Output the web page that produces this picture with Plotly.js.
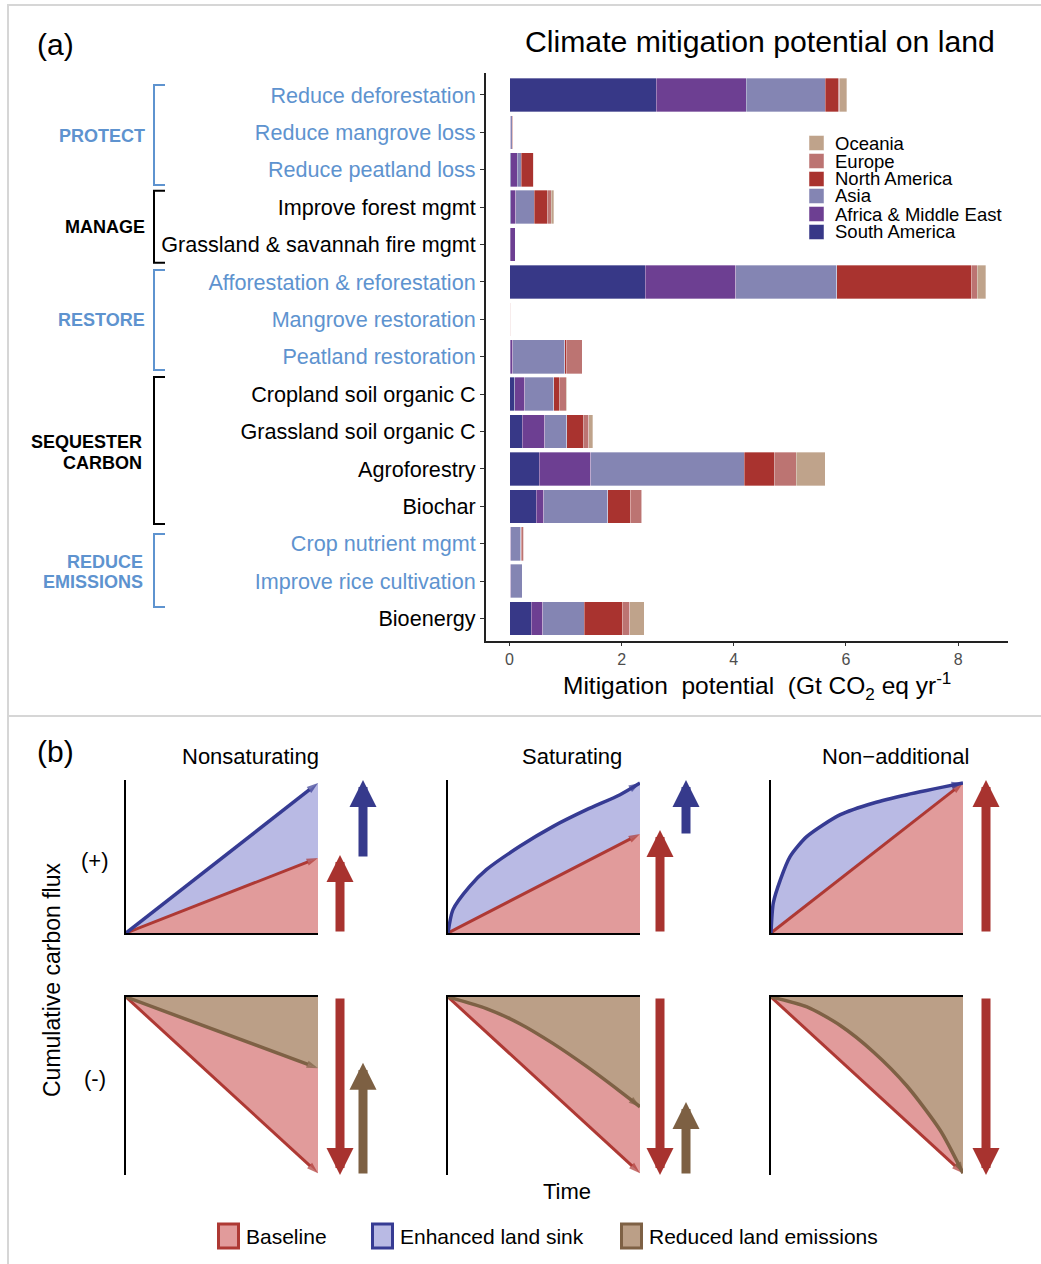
<!DOCTYPE html>
<html><head><meta charset="utf-8">
<script src="https://cdn.plot.ly/plotly-3.0.1.min.js"></script>
<style>html,body{margin:0;padding:0;background:#fff}#chart{width:1041px;height:1264px}</style>
</head><body><div id="chart"></div>
<script>
// ---------------- DATA: panel (a) ----------------
const categories = ['Reduce deforestation','Reduce mangrove loss','Reduce peatland loss','Improve forest mgmt','Grassland & savannah fire mgmt','Afforestation & reforestation','Mangrove restoration','Peatland restoration','Cropland soil organic C','Grassland soil organic C','Agroforestry','Biochar','Crop nutrient mgmt','Improve rice cultivation','Bioenergy'];
const categoryGroupColor = ['blue','blue','blue','black','black','blue','blue','blue','black','black','black','black','blue','blue','black'];
const regions = ['South America','Africa & Middle East','Asia','North America','Europe','Oceania'];
const regionColors = ['#373887','#6d3f92','#8485b3','#a9332f','#bc7472','#bfa38b'];
const southAmerica     = [2.62,0.01,0.02,0.02,0.01,2.42,0.003,0.01,0.09,0.23,0.53,0.48,0.01,0.01,0.39];
const africaMiddleEast = [1.60,0.01,0.12,0.09,0.09,1.61,0.002,0.05,0.18,0.40,0.92,0.13,0.01,0.01,0.20];
const asia             = [1.41,0.03,0.07,0.33,0.00,1.81,0.010,0.92,0.52,0.39,2.74,1.14,0.18,0.21,0.74];
const northAmerica     = [0.23,0.005,0.21,0.23,0.00,2.40,0.002,0.04,0.10,0.29,0.53,0.41,0.02,0.00,0.69];
const europe           = [0.03,0.01,0.01,0.07,0.00,0.10,0.005,0.28,0.12,0.10,0.39,0.20,0.03,0.00,0.12];
const oceania          = [0.12,0.00,0.00,0.05,0.00,0.15,0.000,0.00,0.01,0.07,0.52,0.01,0.00,0.00,0.26];
const regionValues = [southAmerica, africaMiddleEast, asia, northAmerica, europe, oceania];
const xTickVals = [0,2,4,6,8];
const groupLabels = [['PROTECT'],['MANAGE'],['RESTORE'],['SEQUESTER','CARBON'],['REDUCE','EMISSIONS']];
const groupColors = ['blue','black','blue','black','blue'];

// ---------------- DATA: panel (b) ----------------
const scenarioTitles = ['Nonsaturating','Saturating','Non\u2212additional'];
const timeLinear = [0, 1];
const nonsatBaselineUp = [0, 0.50];
const nonsatSinkUp = [0, 1.00];
const satSinkTime = [0, 0.026, 0.113, 0.2, 0.374, 0.548, 0.722, 0.896, 1];
const satSinkUp   = [0, 0.156, 0.311, 0.422, 0.578, 0.711, 0.822, 0.922, 1.0];
const satBaselineUp = [0, 0.66];
const nonaddSinkTime = [0, 0.012, 0.049, 0.10, 0.1875, 0.361, 0.535, 0.708, 1];
const nonaddSinkUp   = [0, 0.20, 0.356, 0.511, 0.644, 0.789, 0.867, 0.922, 1.0];
const nonaddBaselineUp = [0, 1.0];
const baselineDown = [0, -0.99];
const nonsatReducedDown = [0, -0.40];
const satReducedTime = [0, 0.2, 0.374, 0.548, 0.722, 0.896, 1];
const satReducedDown = [0, -0.065, -0.15, -0.262, -0.39, -0.53, -0.617];
const nonaddReducedTime = [0, 0.1875, 0.361, 0.535, 0.708, 0.882, 1];
const nonaddReducedDown = [0, -0.056, -0.16, -0.31, -0.50, -0.75, -0.99];
// net-change arrows (y values)
const baselineUpArrowTip = [0.52, 0.687, 1.02];
const sinkArrowFrom = [0.50, 0.653, null];
const sinkArrowTip  = [1.02, 1.02, null];
const baselineDownArrowTip = [-1.0, -1.0, -1.0];
const reducedArrowFrom = [-1.0, -1.0, null];
const reducedArrowTip  = [-0.37, -0.59, null];
const legendBItems = ['Baseline','Enhanced land sink','Reduced land emissions'];

// ---------------- STYLE ----------------
const W = 1041, H = 1264;
const px = x => x / W, py = y => 1 - y / H;
const FONT = 'Liberation Sans, Arial, Helvetica, sans-serif';
const BLUE_TXT = '#5e93cf';
const colorOf = c => c === 'blue' ? BLUE_TXT : '#000000';
const C = {
  redLine:'#ae3934', redFill:'#e19b9b', blueLine:'#363b93', blueFill:'#b9bae4',
  brownLine:'#7e6145', brownFill:'#bb9f87', redArrow:'#a8332f', blueArrow:'#363a8c', brownArrow:'#7d6043'
};

const data = [];
const layout = {
  width: W, height: H, margin:{l:0,r:0,t:0,b:0}, showlegend:false,
  paper_bgcolor:'#fff', plot_bgcolor:'rgba(0,0,0,0)',
  font:{family:FONT, color:'#000'},
  barmode:'stack', bargap:0.1,
  annotations:[], shapes:[]
};

// ---- panel (a) bars ----
regions.forEach((r,i)=>{
  data.push({type:'bar', orientation:'h', name:r, y:categories, x:regionValues[i],
    xaxis:'x', yaxis:'y', marker:{color:regionColors[i], line:{color:'rgba(255,255,255,0.55)', width:0.6}},
    hoverinfo:'skip'});
});
layout.xaxis = {domain:[px(486), px(1008)], anchor:'y', range:[-0.42, 8.89], tickvals:xTickVals,
  ticktext:xTickVals.map(String), ticks:'outside', ticklen:3, tickwidth:1, tickcolor:'#333',
  tickfont:{size:16, color:'#4d4d4d'}, showline:true, linecolor:'#222', linewidth:2,
  showgrid:false, zeroline:false, fixedrange:true,
  title:{text:'&nbsp;&nbsp;&nbsp;Mitigation&nbsp; potential&nbsp; (Gt CO<sub>2</sub> eq yr<sup>-1</sup>', font:{size:24.5}, standoff:6}};
layout.yaxis = {domain:[py(641), py(72.5)], anchor:'x', type:'category', range:[14.6, -0.6],
  tickmode:'array', tickvals:categories,
  ticktext:categories.map((c,i)=>`<span style="color:${colorOf(categoryGroupColor[i])}">${c.replace('&','&amp;')}</span>`),
  ticks:'outside', ticklen:4, tickwidth:1, tickcolor:'#333', tickfont:{size:21.6},
  showline:true, linecolor:'#222', linewidth:2, showgrid:false, zeroline:false, fixedrange:true};

// group labels & brackets
const groupLabelY = [[135.7],[226.7],[320],[442,463],[561.7,582]];
const groupLabelX = [147,147,147,144,145];
groupLabels.forEach((lines,g)=>{
  lines.forEach((t,k)=>{
    layout.annotations.push({xref:'paper', yref:'paper', x:px(groupLabelX[g]), y:py(groupLabelY[g][k]),
      xanchor:'right', yanchor:'middle', showarrow:false, text:'<b>'+t+'</b>',
      font:{size:18, color:colorOf(groupColors[g])}});
  });
});
const bracketSpans = [[85,185],[190.7,262.7],[270,370],[377,524],[534,607]];
bracketSpans.forEach((s,g)=>{
  const x0=px(165), x1=px(154), ya=py(s[0]), yb=py(s[1]);
  layout.shapes.push({type:'path', xref:'paper', yref:'paper',
    path:`M${x0},${ya} L${x1},${ya} L${x1},${yb} L${x0},${yb}`,
    line:{color:colorOf(groupColors[g]), width:2}});
});

// manual legend for regions (top = Oceania)
const legRowY = [232,214,196,179,161,143];
regions.forEach((r,i)=>{
  const yc = legRowY[i];
  layout.shapes.push({type:'rect', xref:'paper', yref:'paper', x0:px(809), x1:px(824), y0:py(yc+7.5), y1:py(yc-7.5),
    fillcolor:regionColors[i], line:{width:0.8, color:'rgba(255,255,255,0.6)'}});
  layout.annotations.push({xref:'paper', yref:'paper', x:px(833), y:py(yc), xanchor:'left', yanchor:'middle',
    showarrow:false, text:r.replace('&','&amp;'), font:{size:18.5}});
});

// titles
layout.annotations.push({xref:'paper', yref:'paper', x:px(997), y:py(42), xanchor:'right', yanchor:'middle',
  showarrow:false, text:'Climate mitigation potential on land', font:{size:30.2}});
layout.annotations.push({xref:'paper', yref:'paper', x:px(35), y:py(45), xanchor:'left', yanchor:'middle',
  showarrow:false, text:'(a)', font:{size:30}});
layout.annotations.push({xref:'paper', yref:'paper', x:px(35), y:py(752), xanchor:'left', yanchor:'middle',
  showarrow:false, text:'(b)', font:{size:30}});

// frame
const frameCol = '#d6d6d6';
layout.shapes.push({type:'line', xref:'paper', yref:'paper', x0:px(7), x1:1, y0:py(5), y1:py(5), line:{color:frameCol, width:2}});
layout.shapes.push({type:'line', xref:'paper', yref:'paper', x0:px(8), x1:px(8), y0:py(4), y1:0, line:{color:frameCol, width:2}});
layout.shapes.push({type:'line', xref:'paper', yref:'paper', x0:px(8), x1:1, y0:py(716), y1:py(716), line:{color:frameCol, width:2}});

// ---- panel (b) ----
const colX0 = [126, 448, 771], colW = 192;
const arrowX1 = [340, 660, 986], arrowX2 = [363, 686, null];
const topSets = [
  {bt:timeLinear, b:nonsatBaselineUp, st:timeLinear, s:nonsatSinkUp, spline:false},
  {bt:timeLinear, b:satBaselineUp, st:satSinkTime, s:satSinkUp, spline:true},
  {bt:timeLinear, b:nonaddBaselineUp, st:nonaddSinkTime, s:nonaddSinkUp, spline:true}
];
const botSets = [
  {rt:timeLinear, r:nonsatReducedDown},
  {rt:satReducedTime, r:satReducedDown},
  {rt:nonaddReducedTime, r:nonaddReducedDown}
];
function endArrowMarker(n, color){
  const size = new Array(n).fill(0); size[n-1] = 12;
  return {symbol:'arrow', angleref:'previous', size:size, color:color, line:{width:0}};
}
function axisBase(){
  return {showline:true, linecolor:'#000', linewidth:2, showticklabels:false, ticks:'',
    showgrid:false, zeroline:false, fixedrange:true};
}
function lineStyle(color, width, spl){
  return spl ? {color:color, width:width, shape:'spline', smoothing:0.7, backoff:0}
             : {color:color, width:width};
}
for(let c=0;c<3;c++){
  const nt = 2+c, nb = 5+c;
  const xd = [px(colX0[c]), px(colX0[c]+colW)];
  layout['xaxis'+nt] = Object.assign(axisBase(), {domain:xd, anchor:'y'+nt, range:[0,1]});
  layout['yaxis'+nt] = Object.assign(axisBase(), {domain:[py(933), py(780)], anchor:'x'+nt, range:[0,1.02]});
  layout['xaxis'+nb] = Object.assign(axisBase(), {domain:xd, anchor:'y'+nb, range:[0,1], side:'top'});
  layout['yaxis'+nb] = Object.assign(axisBase(), {domain:[py(1175), py(997)], anchor:'x'+nb, range:[-1,0]});
  const T = topSets[c], B = botSets[c];
  const xa = 'x'+nt, ya = 'y'+nt, xb = 'x'+nb, yb = 'y'+nb;
  // --- top: fills first (baseline red, then enhanced sink blue between)
  data.push({type:'scatter', mode:'lines', x:T.bt, y:T.b, xaxis:xa, yaxis:ya,
    fill:'tozeroy', fillcolor:C.redFill, line:{width:0}, hoverinfo:'skip'});
  data.push({type:'scatter', mode:'lines', x:T.st, y:T.s, xaxis:xa, yaxis:ya,
    fill:'tonexty', fillcolor:C.blueFill, line:Object.assign(lineStyle('#000',0,T.spline),{width:0}), hoverinfo:'skip'});
  // --- top: lines with arrow heads
  data.push({type:'scatter', mode:'lines+markers', x:T.bt, y:T.b, xaxis:xa, yaxis:ya,
    line:lineStyle(C.redLine, 3, false), marker:endArrowMarker(T.bt.length, C.redLine), cliponaxis:false, hoverinfo:'skip'});
  data.push({type:'scatter', mode:'lines+markers', x:T.st, y:T.s, xaxis:xa, yaxis:ya,
    line:lineStyle(C.blueLine, 3.5, T.spline),
    marker:endArrowMarker(T.st.length, C.blueLine), cliponaxis:false, hoverinfo:'skip'});
  // --- bottom: fills (reduced emissions brown, then baseline red between)
  data.push({type:'scatter', mode:'lines', x:B.rt, y:B.r, xaxis:xb, yaxis:yb,
    fill:'tozeroy', fillcolor:C.brownFill, line:Object.assign(lineStyle('#000',0,c>0),{width:0}), hoverinfo:'skip'});
  data.push({type:'scatter', mode:'lines', x:timeLinear, y:baselineDown, xaxis:xb, yaxis:yb,
    fill:'tonexty', fillcolor:C.redFill, line:{width:0}, hoverinfo:'skip'});
  // --- bottom: lines with arrow heads
  data.push({type:'scatter', mode:'lines+markers', x:timeLinear, y:baselineDown, xaxis:xb, yaxis:yb,
    line:lineStyle(C.redLine, 3, false), marker:endArrowMarker(2, C.redLine), cliponaxis:false, hoverinfo:'skip'});
  data.push({type:'scatter', mode:'lines+markers', x:B.rt, y:B.r, xaxis:xb, yaxis:yb,
    line:lineStyle(C.brownLine, 3.5, c>0),
    marker:endArrowMarker(B.rt.length, C.brownLine), cliponaxis:false, hoverinfo:'skip'});

  // fat arrows
  const fat = (xpx, n, from, to, color) => ({xref:'paper', x:px(xpx), yref:'y'+n, y:to,
    axref:'pixel', ax:0, ayref:'y'+n, ay:from, showarrow:true, text:'',
    arrowhead:2, arrowsize:0.6, arrowwidth:9, arrowcolor:color, standoff:0});
  layout.annotations.push(fat(arrowX1[c], nt, 0, baselineUpArrowTip[c], C.redArrow));
  if(sinkArrowTip[c]!==null) layout.annotations.push(fat(arrowX2[c], nt, sinkArrowFrom[c], sinkArrowTip[c], C.blueArrow));
  layout.annotations.push(fat(arrowX1[c], nb, 0, baselineDownArrowTip[c], C.redArrow));
  if(reducedArrowTip[c]!==null) layout.annotations.push(fat(arrowX2[c], nb, reducedArrowFrom[c], reducedArrowTip[c], C.brownArrow));

  // scenario title
  layout.annotations.push({xref:'paper', yref:'paper', x:px([250,572,895][c]), y:py(756), xanchor:'center', yanchor:'middle',
    showarrow:false, text:scenarioTitles[c], font:{size:22}});
}
layout.annotations.push({xref:'paper', yref:'paper', x:px(95), y:py(860), showarrow:false, text:'(+)', font:{size:22}, xanchor:'center', yanchor:'middle'});
layout.annotations.push({xref:'paper', yref:'paper', x:px(95), y:py(1078), showarrow:false, text:'(-)', font:{size:22}, xanchor:'center', yanchor:'middle'});
layout.annotations.push({xref:'paper', yref:'paper', x:px(52), y:py(980), showarrow:false, text:'Cumulative carbon flux', textangle:-90, font:{size:23}, xanchor:'center', yanchor:'middle'});
layout.annotations.push({xref:'paper', yref:'paper', x:px(567), y:py(1191), showarrow:false, text:'Time', font:{size:22}, xanchor:'center', yanchor:'middle'});

// legend for panel (b)
const legBFill = [C.redFill, C.blueFill, C.brownFill];
const legBLine = [C.redLine, C.blueLine, C.brownLine];
const legBBoxX = [217, 371, 620];
legendBItems.forEach((t,i)=>{
  layout.shapes.push({type:'rect', xref:'paper', yref:'paper', x0:px(legBBoxX[i]+1.5), x1:px(legBBoxX[i]+21.5),
    y0:py(1248), y1:py(1224), fillcolor:legBFill[i], line:{color:legBLine[i], width:3}});
  layout.annotations.push({xref:'paper', yref:'paper', x:px(legBBoxX[i]+27), y:py(1236), xanchor:'left', yanchor:'middle',
    showarrow:false, text:t, font:{size:21}});
});

Plotly.newPlot('chart', data, layout, {staticPlot:true, displayModeBar:false});
</script>
</body></html>
